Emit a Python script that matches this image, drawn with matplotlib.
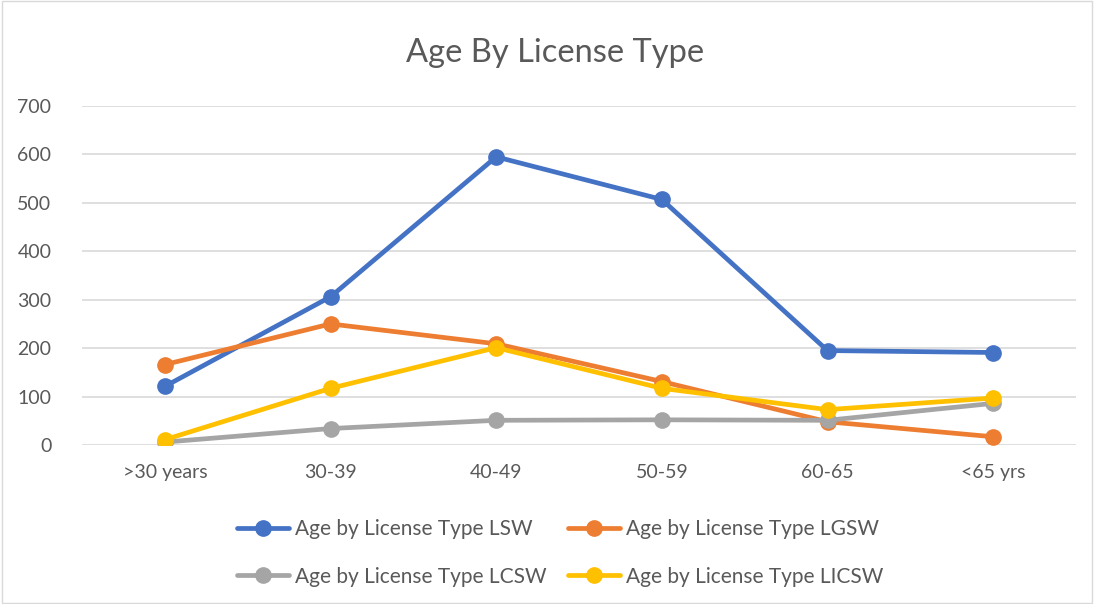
import matplotlib.pyplot as plt

# Data
categories = [">30 years", "30-39", "40-49", "50-59", "60-65", "<65 yrs"]
lsw = [121, 306, 595, 507, 195, 191]
lgsw = [166, 250, 209, 131, 48, 17]
lcsw = [6, 34, 51, 52, 51, 86]
licsw = [11, 117, 201, 117, 73, 97]

series = [
    ("Age by License Type LSW", lsw, "#4472C4"),
    ("Age by License Type LGSW", lgsw, "#ED7D31"),
    ("Age by License Type LCSW", lcsw, "#A5A5A5"),
    ("Age by License Type LICSW", licsw, "#FFC000"),
]

plt.rcParams['font.family'] = ['Lato', 'DejaVu Sans']

fig = plt.figure(figsize=(10.94, 6.04), dpi=100)
ax = fig.add_axes([82 / 1094, 1 - 445 / 604, (1076 - 82) / 1094, (445 - 106) / 604])

x = range(len(categories))
for label, vals, color in series:
    ax.plot(x, vals, color=color, linewidth=3.4, marker="o", markersize=11,
            label=label, solid_capstyle="round")

ax.set_xlim(-0.5, len(categories) - 0.5)
ax.set_ylim(0, 700)
ax.set_yticks(range(0, 701, 100))
ax.set_xticks(list(x))
ax.set_xticklabels(categories)
ax.tick_params(axis="both", length=0, labelsize=14, colors="#595959")
ax.tick_params(axis="x", pad=14)
ax.tick_params(axis="y", pad=22)
ax.grid(axis="y", color="#D9D9D9", linewidth=1.2)
ax.set_axisbelow(True)
for s in ax.spines.values():
    s.set_visible(False)

fig.text(555 / 1094, 1 - 53 / 604, "Age By License Type", ha="center", va="center",
         fontsize=23.5, color="#595959")

# legend is filled row by row in the reference
handles, labels = ax.get_legend_handles_labels()
order = [0, 2, 1, 3]
fig.legend([handles[i] for i in order], [labels[i] for i in order], loc="center",
           bbox_to_anchor=(560 / 1094, 1 - 553 / 604),
           ncol=2, frameon=False, fontsize=15, handlelength=2.5, columnspacing=1.0,
           labelspacing=1.3, labelcolor="#595959", handletextpad=0.3)

# light chart border
fig.patches.append(plt.Rectangle((0.002, 0.002), 0.996, 0.996, transform=fig.transFigure,
                                 fill=False, edgecolor="#D9D9D9", linewidth=1))

fig.savefig("out.png", dpi=100)
